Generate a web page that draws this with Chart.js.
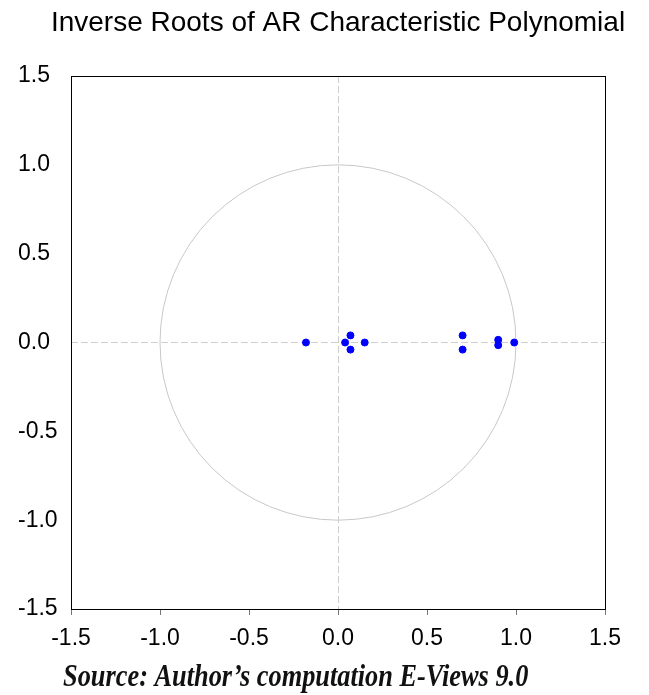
<!DOCTYPE html>
<html>
<head>
<meta charset="utf-8">
<script src="https://cdn.jsdelivr.net/npm/chart.js@4/dist/chart.umd.min.js"></script>
<style>
  html, body { margin: 0; padding: 0; background: #fff; }
  #wrap { width: 649px; height: 695px; }
</style>
</head>
<body>
<div id="wrap"><canvas id="c"></canvas></div>
<script>
const rootsReal = [-0.18, 0.04, 0.07, 0.07, 0.15, 0.70, 0.70, 0.90, 0.90, 0.99]
const rootsImag = [0.00, 0.00, 0.04, -0.04, 0.00, 0.04, -0.04, 0.015, -0.015, 0.00]
const axisTicks = [-1.5, -1.0, -0.5, 0.0, 0.5, 1.0, 1.5]

const titleText = 'Inverse Roots of AR Characteristic Polynomial'
const sourceText = 'Source: Author\u2019s computation E-Views 9.0'

const points = rootsReal.map((x, i) => ({ x, y: rootsImag[i] }))

// unit circle, frame, title and source note
const decor = {
  id: 'decor',
  beforeDatasetsDraw(chart) {
    const { ctx, scales } = chart
    const cx = scales.x.getPixelForValue(0)
    const cy = scales.y.getPixelForValue(0)
    const rx = scales.x.getPixelForValue(1) - cx
    const ry = cy - scales.y.getPixelForValue(1)
    ctx.save()
    ctx.strokeStyle = '#c8c8c8'
    ctx.lineWidth = 1
    ctx.beginPath()
    ctx.ellipse(cx, cy, rx, ry, 0, 0, Math.PI * 2)
    ctx.stroke()
    ctx.restore()
  },
  afterDraw(chart) {
    const { ctx, chartArea } = chart
    ctx.save()
    ctx.strokeStyle = '#000'
    ctx.lineWidth = 1
    ctx.strokeRect(Math.round(chartArea.left) + 0.5, Math.round(chartArea.top) + 0.5,
      Math.round(chartArea.right - chartArea.left), Math.round(chartArea.bottom - chartArea.top))

    // title, centred over the plot
    ctx.fillStyle = '#000'
    ctx.font = '28px "Liberation Sans"'
    ctx.textAlign = 'center'
    ctx.textBaseline = 'alphabetic'
    ctx.fillText(titleText, (chartArea.left + chartArea.right) / 2, 31)

    // source note, condensed bold italic serif
    ctx.textAlign = 'left'
    ctx.fillStyle = '#111'
    ctx.font = 'italic bold 31px "Liberation Serif"'
    ctx.translate(63, 686)
    ctx.scale(0.85, 1)
    ctx.fillText(sourceText, 0, 0)
    ctx.restore()
  }
}

const zeroGrid = (c) => c.tick && c.tick.value === 0 ? '#cfcfcf' : 'rgba(0,0,0,0)'

new Chart(document.getElementById('c'), {
  type: 'scatter',
  data: {
    datasets: [{
      data: points,
      backgroundColor: '#0000ff',
      borderColor: '#0000ff',
      pointRadius: 3.5,
      pointHoverRadius: 3.5
    }]
  },
  options: {
    responsive: true,
    maintainAspectRatio: false,
    animation: false,
    layout: { padding: { left: 18, right: 44, top: 76, bottom: 42 } },
    plugins: {
      legend: { display: false },
      tooltip: { enabled: false },
      title: { display: false }
    },
    scales: {
      x: {
        type: 'linear',
        min: -1.5,
        max: 1.5,
        afterBuildTicks: (s) => { s.ticks = axisTicks.map(v => ({ value: v })) },
        afterFit: (s) => { s.height = 44 },
        border: { display: false, dash: [7, 3] },
        grid: { color: zeroGrid, tickColor: '#777', tickLength: 6, tickBorderDash: [] },
        ticks: {
          color: '#000',
          padding: 10,
          font: { family: 'Liberation Sans', size: 23 },
          callback: (v) => v.toFixed(1)
        }
      },
      y: {
        type: 'linear',
        min: -1.5,
        max: 1.5,
        afterBuildTicks: (s) => { s.ticks = axisTicks.map(v => ({ value: v })) },
        afterFit: (s) => { s.width = 53 },
        border: { display: false, dash: [7, 3] },
        grid: { color: zeroGrid, drawTicks: false },
        ticks: {
          color: '#000',
          crossAlign: 'far',
          padding: 8,
          font: { family: 'Liberation Sans', size: 23 },
          callback: (v) => v.toFixed(1)
        }
      }
    }
  },
  plugins: [decor]
})
</script>
</body>
</html>
